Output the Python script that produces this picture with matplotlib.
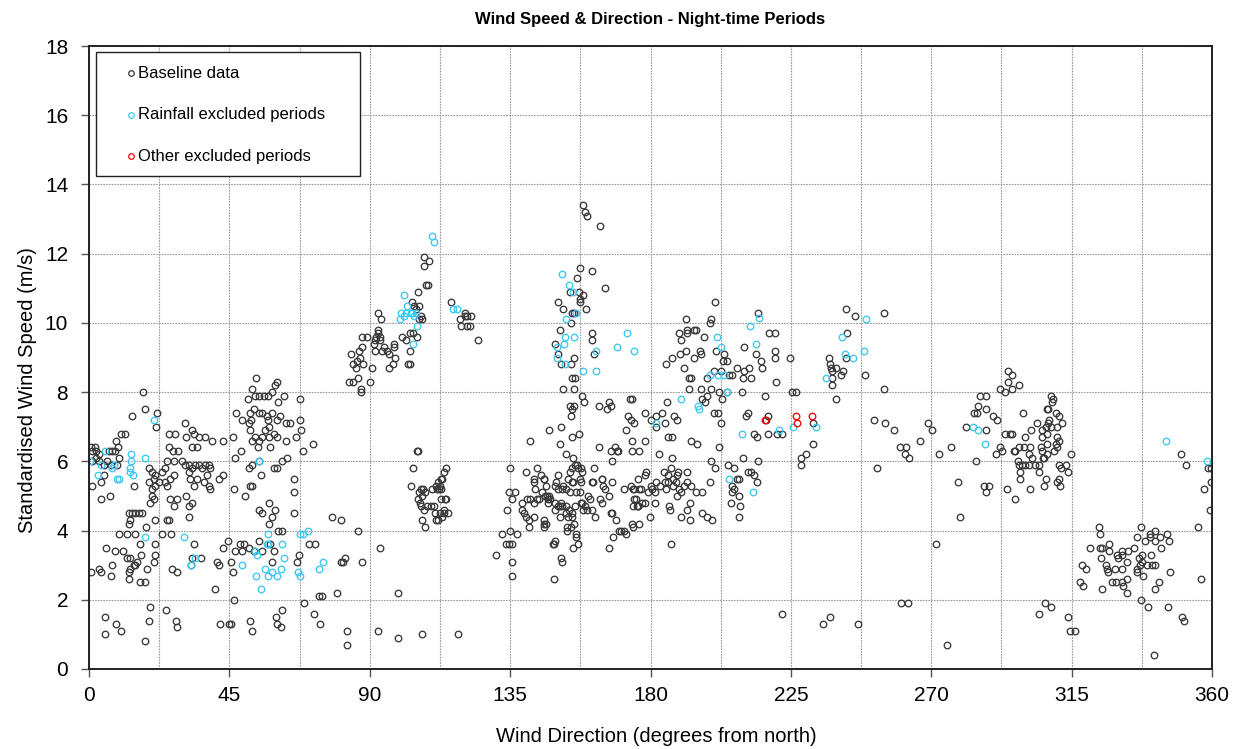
import matplotlib
matplotlib.use("Agg")
import matplotlib.pyplot as plt
from matplotlib.lines import Line2D
from matplotlib.patches import Rectangle
import numpy as np

plt.rcParams['font.family'] = ['Liberation Sans', 'DejaVu Sans']

# ---------------- data (wind direction deg, standardised speed m/s) ----------------
baseline_000_063 = [
    (17.2,8.0),(18.1,7.5),(21.7,7.4),(13.9,7.3),(21.6,7.0),(10.3,6.8),(11.5,6.8),(8.8,6.6),(9.2,6.4),(0.7,6.4),
    (1.9,6.4),(0.9,6.3),(2.1,6.3),(3.2,6.2),(6.4,6.3),(7.5,6.3),(8.3,6.3),(9.7,6.1),(1.1,6.0),(2.1,6.1),
    (3.2,6.0),(4.8,5.9),(5.9,6.0),(6.9,5.9),(9.1,5.9),(4.8,5.6),(3.7,5.4),(0.9,5.3),(14.5,5.3),(6.6,5.0),(3.8,4.9),
    (19.2,5.8),(20.3,5.7),(21.3,5.6),(20.8,5.5),(19.2,5.4),(21.3,5.3),(20.3,5.2),(22.4,5.4),(23.5,5.7),(24.5,5.8),
    (25.1,6.0),(26.1,5.5),(27.2,5.6),(24.5,5.4),(25.1,5.3),(20.3,5.0),(20.8,4.9),(19.7,4.8),(26.1,4.9),(28.2,4.9),
    (27.2,4.7),(31.2,5.0),(33.0,4.8),(32.2,4.7),(32.0,4.4),(25.6,6.4),(27.0,6.3),(28.6,6.3),(25.6,6.8),(27.7,6.8),
    (30.9,7.1),(31.0,6.7),(33.0,6.9),(33.8,6.8),(35.2,6.7),(37.3,6.7),(39.4,6.6),(43.1,6.6),(46.1,6.7),(34.6,6.4),
    (33.0,6.4),(30.9,5.9),(29.8,6.0),(27.1,6.0),(32.0,5.9),(33.0,5.8),(34.1,5.9),(35.2,5.9),(36.2,5.8),(37.3,5.9),
    (38.4,5.9),(38.9,5.8),(37.8,5.6),(36.8,5.4),(34.6,5.5),(33.6,5.3),(32.5,5.5),(32.0,5.7),(38.4,5.3),(38.9,5.2),
    (41.6,5.5),(43.0,5.6),(46.6,5.2),(46.9,6.1),(48.6,6.3),(51.7,5.3),(50.1,5.0),
    (12.8,4.5),(13.9,4.5),(14.9,4.5),(16.0,4.5),(17.1,4.5),(13.3,4.3),(12.8,4.2),(25.1,4.3),(25.6,4.3),(18.4,4.1),
    (9.5,3.9),(12.3,3.9),(14.9,3.9),(23.5,3.9),(26.3,3.9),(21.3,4.3),(16.5,3.6),(21.1,3.6),(5.5,3.5),(8.3,3.4),
    (10.9,3.4),(16.8,3.3),(21.1,3.3),(33.6,3.6),(33.0,3.2),(12.3,3.2),(13.1,3.2),(14.9,3.0),(15.5,3.1),(14.4,3.0),
    (13.3,2.9),(12.8,2.8),(12.8,2.6),(7.5,3.0),(3.2,2.9),(3.7,2.8),(0.5,2.8),(7.2,2.7),(18.7,2.9),(20.8,3.1),
    (16.5,2.5),(17.9,2.5),(26.7,2.9),(28.2,2.8),(32.7,3.0),(36.0,3.2),(41.0,3.1),(41.6,3.0),(40.3,2.3),(43.0,3.5),
    (44.6,3.7),(45.5,3.1),(46.2,2.8),(46.4,2.0),(48.3,3.6),(49.6,3.6),(46.9,3.4),(49.0,3.4),(51.4,3.5),(52.8,3.4),
    (54.6,3.7),(55.4,3.4),(58.1,3.6),(59.2,3.4),(58.6,3.1),
    (52.2,5.3),(54.4,4.6),(55.4,4.5),(57.6,4.8),(58.6,4.4),(59.5,4.6),(57.6,4.2),(60.5,4.0),(61.8,4.0),
    (53.6,8.4),(52.2,8.1),(54.4,7.9),(53.1,7.9),(51.0,7.8),(56.0,7.9),(57.4,7.9),(58.8,8.0),(59.7,8.2),(60.2,8.3),
    (60.5,7.7),(62.4,7.9),(47.2,7.4),(49.0,7.2),(51.2,7.1),(51.7,7.4),(52.0,7.2),(52.8,7.5),(54.4,7.4),(55.4,7.4),
    (57.0,7.3),(57.4,7.2),(58.6,7.4),(60.2,7.2),(61.3,7.3),(51.7,6.9),(53.3,6.7),(54.4,6.6),(55.4,6.7),(57.6,6.7),
    (59.2,6.8),(60.2,6.7),(58.1,6.4),(54.2,6.4),(52.2,6.6),(51.2,5.8),(52.2,5.9),(55.1,5.6),(60.2,5.8),(59.2,5.8),
    (61.8,6.0),(57.6,7.0),(56.5,6.9),(54.4,6.0),
    (19.7,1.8),(5.0,1.5),(19.2,1.4),(24.7,1.7),(8.7,1.3),(5.1,1.0),(10.4,1.1),(17.9,0.8),(27.9,1.4),(28.2,1.2),
    (42.0,1.3),(44.8,1.3),(45.5,1.3),(51.5,1.4),(52.2,1.1),(59.9,1.5),(60.3,1.3),(61.5,1.2),(61.8,1.7),
]

baseline_063_125 = [
    (67.5,7.8),(63.2,7.1),(64.3,7.1),(67.5,7.2),(67.9,6.9),(66.4,6.7),(63.0,6.6),(71.7,6.5),(68.6,6.3),(63.6,6.1),
    (65.7,5.5),(65.8,5.1),(65.6,4.5),(78.0,4.4),(80.7,4.3),(86.1,4.0),(70.6,3.6),(72.5,3.6),(67.2,3.3),(66.7,3.1),
    (80.7,3.1),(81.3,3.1),(82.2,3.2),(87.6,3.1),(93.3,3.5),(73.7,2.1),(74.8,2.1),(79.5,2.2),(98.9,2.2),(69.0,1.9),
    (72.0,1.6),(74.0,1.3),(82.7,1.1),(82.8,0.7),(92.8,1.1),(99.2,0.9),(106.6,1.0),(118.4,1.0),
    (83.3,8.3),(84.6,8.3),(86.3,8.4),(90.0,8.3),(87.3,8.1),(87.3,8.0),(84.1,9.1),(86.4,9.2),(84.7,8.8),(85.7,8.7),
    (85.9,8.9),(86.9,9.0),(87.8,8.8),(87.5,9.3),(87.4,9.6),(89.1,9.6),(90.8,8.7),(91.3,9.4),(91.6,9.5),(91.8,9.2),
    (92.7,9.7),(93.4,9.6),(92.8,9.8),(92.6,10.3),(93.7,10.1),(92.0,9.6),(93.4,9.5),(93.9,9.2),(94.7,9.3),(95.4,9.2),
    (96.1,9.1),(97.7,9.4),(97.7,9.3),(98.2,9.0),(96.3,8.7),(97.5,8.8),(100.4,9.6),(101.5,9.5),(102.9,9.7),(104.0,9.7),
    (105.2,9.6),(102.9,9.2),(102.2,8.8),(102.9,8.8),(103.7,10.6),(104.2,10.5),(105.8,10.5),(104.7,10.4),(106.4,10.2),
    (106.7,10.1),(105.8,10.1),(105.6,10.9),(108.0,11.1),(108.6,11.1),(107.4,11.9),(109.0,11.8),(107.5,11.65),
    (116.1,10.6),(118.8,10.1),(120.5,10.3),(121.3,10.2),(122.3,10.2),(120.5,10.2),(119.4,9.9),(121.3,9.9),
    (122.2,9.9),(124.6,9.5),
    (105.0,6.3),(105.4,6.3),(104.0,5.8),(103.1,5.3),(105.8,5.1),(105.6,4.9),(106.3,5.2),(107.1,5.2),(107.8,5.1),
    (106.8,5.0),(106.1,4.8),(106.5,4.7),(107.4,4.6),(108.4,4.7),(109.5,4.7),(110.6,4.7),(110.9,4.5),(111.2,4.3),
    (112.0,4.3),(112.6,4.5),(113.9,4.5),(115.0,4.5),(113.2,4.4),(113.7,4.6),(106.9,4.3),(107.6,4.1),(110.0,5.2),
    (111.1,5.3),(111.9,5.4),(112.7,5.5),(112.5,5.3),(113.2,5.5),(113.8,5.7),(114.5,5.8),(111.4,5.2),(112.2,5.2),
    (112.9,5.2),(114.0,4.9),(114.4,4.9),(112.7,4.9),
]

baseline_125_187 = [
    (158.5,13.4),(159.0,13.2),(159.7,13.1),(163.7,12.8),(157.5,11.6),(161.3,11.5),(156.3,11.3),(165.4,11.0),
    (157.2,10.9),(154.2,10.9),(158.5,10.8),(157.5,10.7),(157.5,10.6),(150.4,10.6),(152.1,10.4),(159.4,10.4),
    (154.7,10.3),(155.6,10.3),(154.4,10.0),(161.1,9.7),(151.0,9.8),(161.4,9.5),(149.4,9.4),(150.5,9.1),(161.8,9.1),
    (155.6,9.0),(151.3,8.8),(154.5,8.8),(154.9,8.4),(155.8,8.4),(152.1,8.1),(155.4,8.1),
    (157.9,7.9),(158.6,7.7),(154.2,7.6),(154.7,7.5),(155.6,7.6),(154.5,7.3),(163.6,7.6),(165.9,7.5),(166.6,7.7),
    (167.3,7.6),(173.3,7.8),(174.2,7.8),(172.9,7.3),(173.7,7.2),(174.6,7.1),(172.3,6.9),(151.4,7.0),(147.5,6.9),
    (141.4,6.6),(150.9,6.5),(154.9,6.7),(157.2,6.8),(163.4,6.4),(167.3,6.3),(168.6,6.4),(169.6,6.3),(169.4,6.3),
    (174.0,6.6),(174.2,6.3),(176.3,6.3),(178.3,6.6),(178.3,7.4),(180.3,7.2),(181.9,7.3),(183.8,7.4),(185.4,7.7),
    (184.8,7.1),(181.9,7.0),(185.7,6.7),(187.0,6.7),(182.6,6.2),(186.9,6.1),(184.9,8.8),(187.0,9.0),(167.8,6.0),
    (187.4,7.3),
    (152.8,6.2),(155.3,6.1),(155.8,5.9),(156.5,5.9),(156.9,5.8),(157.7,5.8),(157.9,5.7),(154.3,5.7),(154.9,5.8),
    (153.7,5.5),(152.1,5.3),(150.2,5.6),(149.7,5.4),(149.4,5.3),(150.5,5.2),(151.7,5.2),(152.8,5.2),(154.7,5.4),
    (155.3,5.4),(154.2,5.1),(156.0,5.1),(157.3,5.1),(157.7,5.4),(157.3,5.5),(162.0,5.8),(161.1,5.4),(161.7,5.4),
    (160.1,5.0),(164.3,5.5),(165.4,5.2),(167.5,5.4),(164.9,5.3),(171.4,5.2),(173.6,5.3),(174.7,5.2),(176.3,5.2),
    (176.9,5.2),(174.8,4.9),(175.4,4.9),(175.6,4.7),(176.1,4.7),(177.3,4.8),(178.2,4.8),(178.4,5.7),(179.3,5.1),
    (180.0,5.3),(180.6,5.2),(181.4,5.1),(181.9,5.4),(183.0,5.3),(184.6,5.4),(185.1,5.2),(185.7,5.4),(184.4,5.7),
    (185.7,5.6),(186.7,5.8),(187.3,5.5),(187.3,5.3),(181.4,4.8),(186.0,4.7),(186.3,4.6),(179.8,4.4),(186.5,3.6),
    (134.8,5.8),(140.0,5.7),(143.7,5.8),(142.8,5.5),(144.8,5.6),(145.7,5.5),(142.6,5.4),(143.0,5.2),(141.4,4.9),
    (143.5,4.9),(144.4,4.9),(145.1,5.1),(146.2,5.0),(146.7,5.0),(147.3,4.9),(138.9,4.8),(140.3,4.9),(142.5,4.8),
    (146.0,4.3),(145.7,4.2),(140.9,4.1),(138.7,4.6),(139.3,4.5),(140.0,4.4),(140.9,4.3),(142.5,4.4),
    (134.5,5.1),(134.1,4.6),(136.6,5.1),(135.7,4.9),(132.5,3.9),(134.8,4.0),(137.1,3.9),(133.6,3.6),(134.5,3.6),
    (135.7,3.6),(130.4,3.3),(135.7,3.1),(135.7,2.7),(149.1,2.6),(151.3,3.2),(149.4,3.7),(148.8,3.6),
    (147.1,4.8),(149.4,4.8),(151.3,4.8),(149.4,4.6),(151.0,4.4),(152.8,4.5),(153.9,4.6),(154.7,4.5),(154.7,4.4),
    (153.7,4.4),(153.1,4.1),(154.4,4.1),(155.5,4.2),(156.0,3.9),(155.0,3.5),(156.9,3.6),(151.7,4.7),(150.5,4.7),
    (155.8,4.7),(157.7,4.8),(158.5,4.6),(159.5,4.6),(159.0,4.7),(162.2,4.4),(160.6,4.9),(163.8,4.9),(164.6,4.8),
    (166.8,5.0),(167.5,4.5),(168.9,4.3),(169.8,4.0),(170.4,4.0),(171.6,4.0),(172.1,3.9),(168.1,3.8),(166.8,3.5),
    (174.2,4.2),(176.4,4.2),(174.5,4.7),(176.1,4.7),
    (145.8,5.5),(146.4,5.3),(147.4,5.0),(147.9,4.9),(151.1,4.7),(153.0,4.7),(153.3,4.0),(145.8,4.1),(146.4,4.2),
    (156.2,3.8),(149.0,3.6),(151.7,3.1),(158.0,4.8),(161.2,4.6),(164.4,5.5),(167.4,4.5),(174.5,5.2),(176.0,5.5),
    (178.2,5.6),(174.5,4.1),
]

baseline_187_250 = [
    (189.1,9.7),(189.7,9.5),(191.8,9.8),(191.6,9.7),(194.0,9.8),(194.5,9.8),(197.2,9.6),(199.3,10.1),
    (200.8,10.6),(191.5,10.1),(199.1,10.0),(214.6,10.3),(242.7,10.4),(245.7,10.2),
    (189.5,9.1),(191.3,9.2),(194.0,9.0),(195.9,9.2),(196.3,9.1),(200.9,9.2),(203.6,9.1),(203.4,8.9),(204.6,8.9),
    (190.7,8.7),(192.3,8.4),(192.9,8.4),(198.0,8.4),(200.4,8.6),(202.5,8.6),(205.2,8.5),(206.2,8.5),(207.8,8.7),
    (210.0,8.6),(209.8,8.4),(211.6,8.7),(212.3,8.4),(210.0,9.3),(213.8,9.1),(215.3,8.9),(215.6,8.7),(217.9,9.7),
    (220.0,9.7),(219.8,9.2),(219.9,9.0),(224.6,9.0),(220.1,8.3),(209.3,8.0),(211.1,7.4),(210.5,7.3),(216.7,7.9),
    (216.9,7.2),(217.8,7.3),(217.8,6.8),(220.5,6.8),(222.0,6.8),(213.2,6.8),(214.3,6.7),(195.0,6.5),(193.1,6.6),
    (188.6,7.2),(200.4,7.4),(201.6,7.4),(202.5,7.1),(202.0,6.4),(192.3,8.1),(196.3,8.1),(199.3,8.1),(202.0,8.0),
    (204.4,8.0),(203.0,7.8),(196.4,7.8),(197.4,7.7),(198.0,7.9),
    (225.5,8.0),(226.8,8.0),(232.1,7.1),(232.0,6.5),(228.4,6.1),(229.8,6.2),(228.1,5.9),
    (237.2,9.0),(237.6,8.8),(237.8,8.7),(238.3,8.6),(239.5,8.7),(241.2,8.5),(241.6,8.6),(238.2,8.4),(238.1,8.2),
    (239.6,7.8),(242.6,9.0),(243.1,9.7),(248.9,8.5),
    (188.8,5.7),(188.6,5.6),(188.1,5.4),(189.1,5.2),(188.6,5.0),(189.7,5.1),(190.7,5.3),(191.6,5.4),(191.6,5.7),
    (193.1,5.3),(194.6,5.1),(196.4,5.1),(199.1,5.4),(199.5,6.0),(200.6,5.8),(192.7,4.8),(191.8,4.6),(189.7,4.4),
    (192.7,4.3),(196.4,4.5),(198.0,4.4),(199.8,4.3),(204.9,5.9),(206.8,5.8),(207.8,5.5),(208.4,5.5),(206.2,5.3),
    (206.8,5.2),(206.2,5.1),(208.4,5.0),(205.8,4.8),(208.7,4.7),(208.5,4.4),(211.3,5.7),(212.1,5.7),(213.2,5.6),
    (214.3,5.4),(209.8,6.1),(214.5,6.0),
    (222.0,1.6),(237.6,1.5),(235.4,1.3),(246.6,1.3),
]

baseline_250_313 = [
    (254.7,10.3),(254.7,8.1),(251.8,7.2),(255.2,7.1),(258.1,6.9),(260.0,6.4),(261.9,6.4),(261.7,6.2),(262.9,6.1),
    (266.3,6.6),(269.1,7.1),(270.4,6.9),(272.6,6.2),(276.2,6.4),(252.5,5.8),(278.6,5.4),(279.3,4.4),(271.5,3.6),
    (260.2,1.9),(262.6,1.9),(275.1,0.7),
    (281.1,7.0),(283.6,7.4),(284.6,7.4),(284.9,7.6),(285.7,7.9),(287.5,7.9),(287.7,7.5),(289.8,7.3),(291.1,7.2),
    (287.4,6.9),(284.5,6.0),(287.0,5.3),(288.5,5.3),(287.4,5.1),(291.9,8.1),(293.5,8.0),(294.6,8.3),(294.5,8.6),
    (296.0,8.5),(296.0,8.1),(298.0,8.2),(290.6,6.2),(292.7,6.3),(291.9,6.4),(294.2,5.2),(296.7,4.9),(293.8,6.8),
    (295.1,6.8),(296.0,6.8),(299.5,7.4),
    (296.5,6.3),(298.1,6.4),(297.0,6.3),(297.9,6.0),(298.3,5.7),(298.3,5.5),(299.7,6.4),(300.0,6.7),(301.6,6.4),
    (301.3,6.2),(302.0,6.9),(301.6,5.2),(302.4,6.1),(303.4,5.9),(304.5,5.7),(304.0,7.1),(305.4,6.9),(305.6,6.7),
    (305.1,6.4),(305.6,6.3),(307.2,6.8),(306.7,7.0),(307.5,7.1),(308.3,7.0),(307.2,6.5),(307.2,6.2),(306.1,6.1),
    (304.5,5.9),(305.8,6.1),(306.9,5.5),(306.2,5.3),(307.7,7.2),(307.2,7.5),(307.4,7.5),(308.8,7.7),(308.5,7.9),
    (309.0,7.8),(309.9,7.4),(310.9,7.3),(310.4,7.0),(312.0,7.1),(310.2,6.7),(309.9,6.5),(310.4,6.4),(309.5,6.3),
    (311.1,6.6),(310.9,5.9),(311.7,5.8),(311.1,5.5),(310.4,5.4),(311.3,5.3),(301.3,5.9),(300.2,5.9),(299.1,5.9),
    (298.1,5.9),
    (304.5,1.6),(306.6,1.9),(308.4,1.8),
]

baseline_313_360 = [
    (313.2,5.9),(313.7,5.7),(314.7,6.2),(350.0,6.2),(351.7,5.9),(358.6,5.8),(359.7,5.8),(359.7,5.4),(357.5,5.2),
    (359.4,4.6),(355.4,4.1),(356.4,2.6),(350.3,1.5),(351.0,1.4),(341.4,0.4),(345.8,1.8),(339.4,1.8),(337.1,2.0),
    (313.7,1.5),(314.5,1.1),(316.1,1.1),
    (323.8,4.1),(324.2,3.9),(337.3,4.1),(336.1,3.8),(338.4,3.7),(340.2,3.9),(341.6,4.0),(343.2,3.8),(340.2,3.8),
    (341.8,3.7),(345.7,3.9),(346.2,3.7),(343.5,3.5),(340.4,3.3),(337.5,3.3),(337.5,3.1),(336.5,3.2),(335.9,2.9),
    (338.0,2.7),(339.1,3.0),(340.7,3.0),(341.8,3.0),(346.4,2.8),(342.9,2.5),(341.8,2.3),
    (320.8,3.5),(324.1,3.5),(324.7,3.5),(327.1,3.6),(327.0,3.4),(329.5,3.3),(330.0,3.2),(331.1,3.3),(331.3,3.4),
    (333.2,3.4),(335.0,3.5),(332.7,3.1),(331.1,2.9),(328.9,2.9),(326.8,2.8),(326.3,2.9),(325.9,3.0),(324.4,3.2),
    (318.2,3.0),(319.6,2.9),(317.7,2.5),(318.5,2.4),(324.6,2.3),(327.9,2.5),(329.3,2.5),(331.1,2.5),(331.6,2.4),
    (332.7,2.6),(332.7,2.2),(335.9,2.8),(337.0,3.0),
]

rainfall = [
    (20.9,7.2),(5.1,6.3),(0.3,6.0),(3.8,5.9),(8.0,5.9),(3.0,5.6),(7.5,5.8),(9.1,5.5),(9.6,5.5),(13.6,6.2),
    (13.4,6.0),(18.1,6.1),(13.1,5.8),(13.1,5.7),(14.2,5.6),(18.1,3.8),(30.5,3.8),(32.6,3.0),(34.1,3.2),(53.8,3.3),
    (57.4,3.9),(57.4,3.6),(57.0,3.6),(56.5,2.9),(57.4,2.7),(58.8,2.8),(60.2,2.7),(61.6,2.9),(53.6,2.7),(55.2,2.3),
    (49.0,3.0),(53.3,3.4),(62.5,3.2),(62.0,3.6),(54.4,6.0),
    (67.5,3.9),(68.6,3.9),(70.1,4.0),(75.0,3.1),(73.6,2.9),(66.9,2.8),(67.5,2.7),
    (101.0,10.8),(102.1,10.5),(99.9,10.3),(99.6,10.1),(101.5,10.3),(103.1,10.3),(103.6,10.3),(104.2,10.2),
    (104.7,10.3),(105.0,9.9),(103.8,9.4),(101.0,10.2),(116.8,10.4),(117.9,10.4),(110.1,12.5),(110.6,12.35),
    (151.5,11.4),(153.9,11.1),(155.3,10.9),(156.1,10.3),(152.8,10.1),(152.6,9.6),(155.5,9.6),(152.2,9.4),
    (149.9,9.3),(149.9,9.0),(152.7,8.8),(158.5,8.6),(162.4,8.6),(162.4,9.2),(169.4,9.3),(172.5,9.7),(174.7,9.2),
    (181.7,7.1),
    (211.9,9.9),(201.2,9.6),(202.7,9.3),(213.7,9.4),(199.1,8.5),(201.6,8.5),(203.6,8.5),(204.6,8.0),(189.9,7.8),
    (195.2,7.6),(195.7,7.5),(209.4,6.8),(221.2,6.9),(225.6,7.0),(233.2,7.0),(241.5,9.6),(242.5,9.1),(244.8,9.0),
    (248.5,9.2),(236.4,8.4),(205.1,5.5),(212.9,5.1),(214.9,10.15),(249.0,10.1),
    (283.3,7.0),(285.0,6.9),(287.1,6.5),(345.2,6.6),(358.4,6.0),
]

other_excluded = [(216.8,7.2),(226.6,7.3),(227.0,7.1),(231.7,7.3)]

baseline = (baseline_000_063 + baseline_063_125 + baseline_125_187 +
            baseline_187_250 + baseline_250_313 + baseline_313_360)

series_labels = ['Baseline data', 'Rainfall excluded periods', 'Other excluded periods']
series_colors = ['#383838', '#3cc8f4', '#ff0000']

x_ticks = [0, 45, 90, 135, 180, 225, 270, 315, 360]
y_ticks = [0, 2, 4, 6, 8, 10, 12, 14, 16, 18]

# ---------------- figure ----------------
W, H = 1239, 749
fig = plt.figure(figsize=(W/100, H/100), dpi=100)
ax = fig.add_axes([89/W, 1-669/H, (1212-89)/W, (669-46)/H])

mk = dict(marker='o', linestyle='none', markersize=4.7, markerfacecolor='none', markeredgewidth=0.95)
for pts, col, lab in zip([baseline, rainfall, other_excluded], series_colors, series_labels):
    xs, ys = zip(*pts)
    ax.plot(xs, ys, markeredgecolor=col, label=lab, **mk)

ax.set_xlim(0, 360)
ax.set_ylim(0, 18)
ax.set_xticks(x_ticks)
ax.set_xticks(np.arange(0, 361, 22.5), minor=True)
ax.set_yticks(y_ticks)
ax.tick_params(axis='both', which='major', labelsize=15, direction='out', length=6, width=1, color='#555555')
ax.tick_params(axis='x', which='minor', length=0)
ax.tick_params(axis='x', pad=6)
ax.tick_params(axis='y', pad=9)
gstyle = dict(color='#9a9a9a', linewidth=0.8, linestyle=(0, (1.5, 1)))
ax.grid(True, which='both', axis='x', **gstyle)
ax.grid(True, which='major', axis='y', **gstyle)
ax.set_axisbelow(True)
for s in ax.spines.values():
    s.set_color('#222222')
    s.set_linewidth(1.4)

ax.set_xlabel('Wind Direction (degrees from north)', fontsize=14.5)
ax.xaxis.set_label_coords((656-89)/1123, (669-727)/623)
ax.set_ylabel('Standardised Wind Speed (m/s)', fontsize=14.5)
ax.yaxis.set_label_coords((37-89)/1123, (669-390)/623)
ax.set_title('Wind Speed & Direction - Night-time Periods', fontsize=12, fontweight='bold', pad=16)

# legend box (drawn to match the reference layout)
fig.add_artist(Rectangle((96/W, 1-176/H), (360-96)/W, (176-52)/H, transform=fig.transFigure,
                         facecolor='white', edgecolor='#222222', linewidth=1.0, zorder=5))
for i, (lab, col) in enumerate(zip(series_labels, series_colors)):
    yy = 1 - (73 + i*41.5)/H
    fig.add_artist(Line2D([131/W], [yy], transform=fig.transFigure, marker='o', markersize=4.0,
                          markerfacecolor='none', markeredgecolor=col, markeredgewidth=0.9, zorder=6))
    fig.text(138/W, yy, lab, fontsize=12, va='center', ha='left', zorder=6)

fig.savefig('out.png', dpi=100)
